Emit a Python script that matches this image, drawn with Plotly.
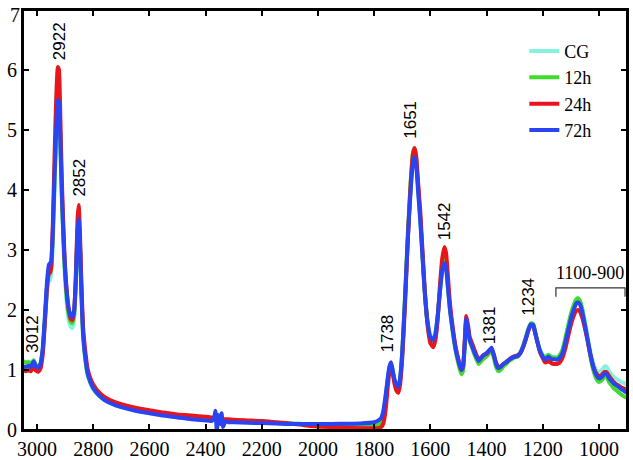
import plotly.graph_objects as go

# Wavenumber (cm-1)
wavenumber = [
    3050, 3040, 3030, 3022, 3012, 3004, 2996, 2988, 2980, 2972, 2964, 2958,
    2954, 2950, 2944, 2938, 2932, 2926, 2922, 2918, 2912, 2904,
    2896, 2888, 2880, 2874, 2868, 2862, 2856, 2852, 2848, 2842, 2836,
    2828, 2820, 2810, 2800, 2780, 2760, 2740, 2720, 2700, 2650, 2600, 2550, 2500, 2450,
    2400, 2380, 2370, 2365, 2360, 2355, 2348, 2343, 2338, 2330, 2320, 2300,
    2250, 2200, 2150, 2100, 2050, 2000, 1950, 1900, 1850, 1800, 1785, 1775, 1768,
    1760, 1752, 1746, 1740, 1734, 1728, 1720, 1714, 1708, 1700, 1690,
    1680, 1670, 1662, 1656, 1650, 1644, 1636, 1628, 1620, 1610, 1600, 1590,
    1582, 1574, 1566, 1558, 1550, 1544, 1538, 1530, 1520, 1510, 1500, 1490,
    1484, 1478, 1472, 1466, 1460, 1452, 1444, 1436, 1428, 1420, 1410, 1400, 1390, 1382,
    1374, 1366, 1358, 1350, 1340, 1330, 1320, 1310, 1300, 1290, 1280, 1270, 1260, 1250, 1242,
    1234, 1226, 1218, 1210, 1200, 1192, 1186, 1180, 1174, 1168, 1160, 1150, 1140,
    1130, 1120, 1110, 1100, 1090, 1082, 1075, 1068, 1060, 1050, 1040, 1030, 1020,
    1010, 1000, 990, 980, 972, 964, 956, 948, 940, 930, 920, 910, 900,
]

cg = [
    1.15, 1.13, 1.14, 1.11, 1.17, 1.09, 1.07, 1.10, 1.30, 1.80, 2.30, 2.48,
    2.50, 2.58, 3.10, 4.00, 4.85, 5.40, 5.35, 4.90, 3.90, 2.85,
    2.20, 1.85, 1.72, 1.70, 1.85, 2.40, 3.25, 3.45, 3.15, 2.25, 1.55,
    1.15, 0.92, 0.78, 0.68, 0.57, 0.50, 0.45, 0.41, 0.38, 0.33, 0.29, 0.25, 0.22, 0.19,
    0.18, 0.17, 0.17, 0.17, 0.165, 0.165, 0.16, 0.16, 0.155, 0.15, 0.15, 0.145,
    0.135, 0.125, 0.115, 0.105, 0.10, 0.095, 0.09, 0.09, 0.09, 0.10, 0.13, 0.18, 0.28,
    0.52, 0.83, 1.03, 1.10, 0.98, 0.83, 0.74, 0.71, 0.84, 1.28, 2.20,
    3.22, 4.05, 4.52, 4.62, 4.45, 4.05, 3.52, 2.92, 2.32, 1.82, 1.58, 1.52,
    1.62, 1.90, 2.30, 2.65, 2.80, 2.72, 2.42, 2.02, 1.66, 1.37, 1.15, 0.98,
    1.03, 1.40, 1.83, 1.70, 1.52, 1.42, 1.32, 1.24, 1.16, 1.20, 1.25, 1.28, 1.32, 1.35,
    1.24, 1.10, 1.03, 1.05, 1.10, 1.14, 1.18, 1.21, 1.23, 1.25, 1.30, 1.40, 1.55, 1.70, 1.78,
    1.77, 1.62, 1.47, 1.34, 1.25, 1.21, 1.24, 1.26, 1.24, 1.22, 1.22, 1.21, 1.25,
    1.33, 1.50, 1.70, 1.90, 2.05, 2.15, 2.18, 2.15, 2.03, 1.80, 1.55, 1.30, 1.12,
    1.00, 0.97, 1.00, 1.06, 1.05, 0.98, 0.93, 0.89, 0.86, 0.83, 0.80, 0.78, 0.76,
]

h12 = [
    1.15, 1.12, 1.13, 1.10, 1.16, 1.08, 1.06, 1.10, 1.33, 1.85, 2.40, 2.60,
    2.62, 2.68, 3.20, 4.10, 4.90, 5.45, 5.40, 4.95, 3.95, 2.95,
    2.30, 1.95, 1.80, 1.78, 1.92, 2.45, 3.28, 3.50, 3.18, 2.28, 1.58,
    1.18, 0.93, 0.79, 0.69, 0.58, 0.51, 0.46, 0.42, 0.39, 0.34, 0.30, 0.26, 0.23, 0.20,
    0.19, 0.18, 0.18, 0.175, 0.17, 0.17, 0.17, 0.165, 0.165, 0.16, 0.16, 0.15,
    0.14, 0.13, 0.12, 0.11, 0.10, 0.09, 0.08, 0.08, 0.07, 0.07, 0.09, 0.14, 0.25,
    0.50, 0.82, 1.03, 1.10, 0.98, 0.82, 0.72, 0.70, 0.83, 1.30, 2.25,
    3.30, 4.15, 4.62, 4.70, 4.52, 4.10, 3.55, 2.90, 2.30, 1.78, 1.52, 1.45,
    1.55, 1.85, 2.30, 2.70, 2.85, 2.75, 2.42, 2.00, 1.62, 1.32, 1.10, 0.93,
    0.98, 1.38, 1.85, 1.68, 1.48, 1.38, 1.27, 1.18, 1.10, 1.14, 1.19, 1.23, 1.28, 1.32,
    1.20, 1.05, 0.98, 1.00, 1.06, 1.10, 1.15, 1.18, 1.21, 1.22, 1.28, 1.40, 1.55, 1.70, 1.78,
    1.77, 1.62, 1.46, 1.33, 1.24, 1.20, 1.23, 1.25, 1.23, 1.21, 1.21, 1.20, 1.24,
    1.33, 1.52, 1.73, 1.93, 2.08, 2.17, 2.20, 2.16, 2.03, 1.78, 1.50, 1.22, 1.00,
    0.86, 0.80, 0.83, 0.89, 0.88, 0.80, 0.75, 0.70, 0.67, 0.63, 0.59, 0.56, 0.54,
]

h24 = [
    1.00, 0.98, 1.00, 0.98, 1.05, 0.99, 0.97, 1.02, 1.25, 1.80, 2.40, 2.60,
    2.62, 2.70, 3.40, 4.50, 5.50, 6.05, 6.00, 5.40, 4.20, 3.10,
    2.40, 2.02, 1.85, 1.83, 1.98, 2.55, 3.50, 3.75, 3.40, 2.45, 1.70,
    1.30, 1.02, 0.86, 0.76, 0.63, 0.55, 0.50, 0.46, 0.43, 0.37, 0.33, 0.29, 0.26, 0.24,
    0.22, 0.21, 0.205, 0.20, 0.20, 0.195, 0.19, 0.19, 0.185, 0.18, 0.18, 0.17,
    0.16, 0.15, 0.13, 0.11, 0.08, 0.06, 0.05, 0.04, 0.03, 0.03, 0.03, 0.05, 0.10,
    0.30, 0.70, 0.95, 1.02, 0.95, 0.78, 0.65, 0.62, 0.75, 1.20, 2.10,
    3.20, 4.10, 4.60, 4.70, 4.55, 4.15, 3.65, 3.00, 2.35, 1.75, 1.45, 1.38,
    1.50, 1.85, 2.40, 2.85, 3.05, 2.95, 2.60, 2.10, 1.70, 1.38, 1.17, 1.00,
    1.05, 1.45, 1.90, 1.75, 1.55, 1.45, 1.35, 1.25, 1.17, 1.20, 1.25, 1.27, 1.32, 1.35,
    1.25, 1.12, 1.05, 1.06, 1.10, 1.13, 1.17, 1.21, 1.23, 1.24, 1.28, 1.38, 1.52, 1.67, 1.75,
    1.74, 1.60, 1.45, 1.30, 1.20, 1.13, 1.13, 1.15, 1.13, 1.11, 1.10, 1.10, 1.12,
    1.20, 1.35, 1.55, 1.75, 1.90, 1.98, 2.00, 1.98, 1.88, 1.70, 1.48, 1.25, 1.06,
    0.95, 0.90, 0.92, 0.97, 0.96, 0.90, 0.85, 0.80, 0.77, 0.74, 0.71, 0.69, 0.67,
]

h72 = [
    1.06, 1.05, 1.07, 1.05, 1.14, 1.06, 1.04, 1.10, 1.35, 1.90, 2.50, 2.75,
    2.78, 2.80, 3.30, 4.20, 5.00, 5.50, 5.45, 5.00, 4.00, 3.00,
    2.40, 2.05, 1.90, 1.88, 2.00, 2.50, 3.30, 3.52, 3.20, 2.30, 1.60,
    1.20, 0.95, 0.80, 0.70, 0.58, 0.50, 0.45, 0.41, 0.38, 0.32, 0.28, 0.24, 0.21, 0.18,
    0.16, 0.15, 0.20, 0.32, -0.02, 0.25, 0.10, 0.28, 0.05, 0.14, 0.13, 0.13,
    0.12, 0.115, 0.11, 0.10, 0.10, 0.10, 0.10, 0.105, 0.11, 0.13, 0.16, 0.20, 0.30,
    0.55, 0.85, 1.05, 1.13, 1.00, 0.85, 0.75, 0.72, 0.85, 1.30, 2.20,
    3.20, 4.00, 4.45, 4.55, 4.40, 4.00, 3.50, 2.90, 2.30, 1.80, 1.55, 1.50,
    1.60, 1.90, 2.30, 2.65, 2.78, 2.70, 2.40, 2.00, 1.65, 1.35, 1.15, 1.00,
    1.05, 1.40, 1.85, 1.70, 1.50, 1.40, 1.30, 1.22, 1.15, 1.20, 1.25, 1.28, 1.33, 1.37,
    1.25, 1.10, 1.03, 1.05, 1.10, 1.13, 1.17, 1.20, 1.22, 1.23, 1.28, 1.38, 1.52, 1.68, 1.76,
    1.75, 1.60, 1.45, 1.32, 1.22, 1.17, 1.20, 1.22, 1.20, 1.18, 1.18, 1.17, 1.20,
    1.28, 1.45, 1.65, 1.85, 2.00, 2.10, 2.13, 2.10, 1.98, 1.75, 1.50, 1.25, 1.05,
    0.92, 0.86, 0.88, 0.94, 0.93, 0.86, 0.82, 0.78, 0.75, 0.72, 0.68, 0.65, 0.62,
]

series_names = ["CG", "12h", "24h", "72h"]
series_colors = ["#86F2DE", "#3FDC2E", "#E8161B", "#2B44F2"]

# Peak labels: text, wavenumber, y centre
peak_labels = ["3012", "2922", "2852", "1738", "1651", "1542", "1381", "1234"]
peak_x = [3018, 2922, 2852, 1756, 1669, 1551, 1390, 1249]
peak_y = [1.60, 6.48, 4.20, 1.60, 5.17, 3.48, 1.75, 2.22]

region_label = "1100-900"
region_x = [1153, 907]
region_y = [2.37, 2.22]

x_ticks = [3000, 2800, 2600, 2400, 2200, 2000, 1800, 1600, 1400, 1200, 1000]
y_ticks = [0, 1, 2, 3, 4, 5, 6, 7]
y_ticktext = ["0", "1", "2", "3", "4", "5", "6", ""]  # top label "7" drawn below
y_top_label = "7"

SERIF = "Liberation Serif, Times New Roman, serif"
SANS = "Liberation Sans, Arial, sans-serif"

fig = go.Figure()
for name, ys, col in zip(series_names, [cg, h12, h24, h72], series_colors):
    fig.add_trace(go.Scatter(
        x=wavenumber, y=ys, mode="lines", name=name,
        line=dict(color=col, width=4, shape="spline", smoothing=0.5),
    ))

for t, xv, yv in zip(peak_labels, peak_x, peak_y):
    fig.add_annotation(x=xv, y=yv, text=t, textangle=-90, showarrow=False,
                       font=dict(family=SANS, size=17, color="black"),
                       xanchor="center", yanchor="middle")

fig.add_annotation(x=(region_x[0] + region_x[1]) / 2, y=2.62, text=region_label,
                   showarrow=False, font=dict(family=SERIF, size=18, color="black"))
fig.add_shape(type="path",
              path=f"M {region_x[0]} {region_y[1]} L {region_x[0]} {region_y[0]} "
                   f"L {region_x[1]} {region_y[0]} L {region_x[1]} {region_y[1]}",
              line=dict(color="#333333", width=1.2))

# top y tick label, nudged down so it stays inside the page
fig.add_annotation(xref="paper", x=0, xanchor="right", xshift=-1,
                   yref="y", y=y_ticks[-1], yanchor="middle", yshift=-5,
                   text=y_top_label, showarrow=False,
                   font=dict(family=SERIF, size=20, color="black"))

# plot frame
fig.add_shape(type="rect", xref="paper", yref="paper", x0=0, x1=1, y0=0, y1=1,
              line=dict(color="black", width=2), layer="above")

fig.update_xaxes(range=[3050, 900], tickvals=x_ticks, ticks="inside", ticklen=6, tickwidth=2,
                 tickcolor="black", showline=True, linewidth=2, linecolor="black", mirror="ticks",
                 showgrid=False, zeroline=False, automargin=False, ticklabeloverflow="allow",
                 tickfont=dict(family=SERIF, size=20, color="black"))
fig.update_yaxes(range=[0, 7], tickvals=y_ticks, ticktext=y_ticktext, ticks="inside",
                 ticklen=6, tickwidth=2,
                 tickcolor="black", showline=True, linewidth=2, linecolor="black", mirror="ticks",
                 showgrid=False, zeroline=False, automargin=False, ticklabeloverflow="allow",
                 tickfont=dict(family=SERIF, size=20, color="black"))

fig.update_layout(
    width=633, height=460,
    margin=dict(l=23, r=6, t=10, b=30),
    plot_bgcolor="white", paper_bgcolor="white",
    legend=dict(x=0.83, y=0.946, xanchor="left", yanchor="top",
                font=dict(family=SERIF, size=18, color="black"),
                bgcolor="rgba(0,0,0,0)", tracegroupgap=0),
)

fig.write_html("out.html", config={"displayModeBar": False},
               post_script="document.body.style.margin='0';document.body.style.padding='0';")
